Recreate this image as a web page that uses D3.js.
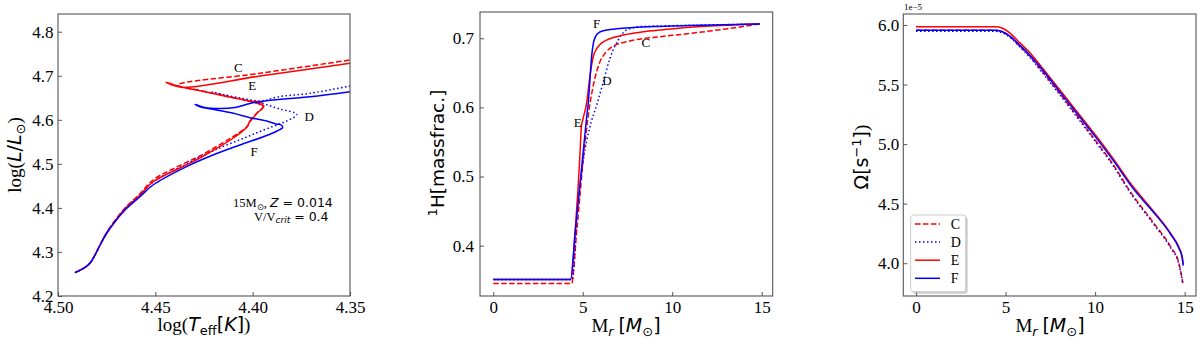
<!DOCTYPE html>
<html>
<head>
<meta charset="utf-8">
<script src="https://cdn.jsdelivr.net/npm/d3@7"></script>
<style>
  body { margin: 0; background: #fff; }
  svg { display: block; }
</style>
</head>
<body>
<svg id="chart" width="1200" height="346"></svg>
<script>
// ---- data ----
// HR tracks: [log Teff, log L]
var hrC = [[4.4913,4.2529],[4.4861,4.2652],[4.4836,4.2743],[4.4810,4.2931],[4.4784,4.3160],[4.4750,4.3440],[4.4707,4.3720],[4.4647,4.4040],[4.4579,4.4320],[4.4512,4.4634],[4.4358,4.4997],[4.4271,4.5178],[4.4185,4.5394],[4.4099,4.5621],[4.4029,4.5848],[4.4004,4.6018],[4.3973,4.6177],[4.3947,4.6291],[4.3967,4.6359],[4.4014,4.6416],[4.4116,4.6518],[4.4245,4.6643],[4.4384,4.6790],[4.3962,4.7056],[4.3500,4.7358]];
var hrD = [[4.4913,4.2529],[4.4861,4.2652],[4.4836,4.2743],[4.4810,4.2931],[4.4784,4.3158],[4.4750,4.3430],[4.4707,4.3705],[4.4647,4.4020],[4.4579,4.4290],[4.4512,4.4588],[4.4358,4.4958],[4.4202,4.5299],[4.3988,4.5689],[4.3774,4.6120],[4.3860,4.6245],[4.3952,4.6370],[4.4065,4.6484],[4.4209,4.6631],[4.4065,4.6495],[4.3952,4.6427],[4.3875,4.6518],[4.3705,4.6602],[4.3500,4.6767]];
var hrE = [[4.4913,4.2529],[4.4861,4.2652],[4.4836,4.2743],[4.4810,4.2931],[4.4784,4.3158],[4.4750,4.3430],[4.4707,4.3700],[4.4647,4.4015],[4.4579,4.4285],[4.4512,4.4588],[4.4358,4.4940],[4.4271,4.5133],[4.4185,4.5349],[4.4099,4.5587],[4.4029,4.5837],[4.4014,4.5973],[4.3993,4.6064],[4.3978,4.6154],[4.3952,4.6245],[4.3942,4.6313],[4.3962,4.6359],[4.3952,4.6404],[4.3998,4.6416],[4.4065,4.6472],[4.4168,4.6563],[4.4271,4.6661],[4.4373,4.6751],[4.4445,4.6851],[4.4368,4.6738],[4.3962,4.6994],[4.3500,4.7283]];
var hrF = [[4.4913,4.2529],[4.4861,4.2652],[4.4836,4.2743],[4.4810,4.2931],[4.4784,4.3158],[4.4750,4.3424],[4.4707,4.3687],[4.4647,4.3991],[4.4579,4.4254],[4.4512,4.4520],[4.4358,4.4899],[4.4204,4.5201],[4.4065,4.5428],[4.3928,4.5644],[4.3875,4.5746],[4.3846,4.5825],[4.3854,4.5882],[4.3880,4.5905],[4.3928,4.5973],[4.4014,4.6048],[4.4099,4.6148],[4.4185,4.6223],[4.4271,4.6298],[4.4296,4.6352],[4.4245,4.6279],[4.4168,4.6257],[4.4091,4.6279],[4.4014,4.6370],[4.3911,4.6443],[4.3705,4.6524],[4.3500,4.6638]];

// hydrogen profile: [Mr, X(1H)]
var hC = [[0,0.3454],[4.38,0.3454],[4.66,0.42],[5.12,0.548],[5.40,0.605],[5.59,0.632],[5.96,0.666],[6.3,0.680],[6.8,0.690],[7.45,0.695],[8.5,0.700],[9.31,0.7023],[10.99,0.707],[13.0,0.7135],[14.9,0.7207]];
var hD = [[0,0.351],[4.40,0.351],[4.7,0.45],[5.03,0.524],[5.40,0.572],[5.78,0.6035],[6.15,0.637],[6.52,0.671],[6.98,0.6975],[7.45,0.712],[8.2,0.7168],[10,0.7182],[12.5,0.7195],[14.9,0.7207]];
var hE = [[0,0.351],[4.32,0.351],[4.6,0.43],[4.85,0.535],[4.92,0.572],[5.0,0.582],[5.22,0.607],[5.40,0.645],[5.59,0.674],[5.78,0.685],[5.96,0.691],[6.3,0.697],[6.7,0.701],[7.5,0.706],[8.38,0.7096],[9.5,0.7125],[10.99,0.716],[13.0,0.719],[14.9,0.7207]];
var hF = [[0,0.351],[4.32,0.351],[4.57,0.418],[4.94,0.514],[5.22,0.5865],[5.31,0.607],[5.5,0.675],[5.62,0.696],[5.8,0.706],[6.15,0.711],[6.8,0.7135],[7.45,0.715],[9.0,0.717],[11.0,0.7185],[13.0,0.7197],[14.9,0.7207]];

// angular velocity profile: [Mr, Omega / 1e-5]
var wC = [[0,5.955],[4.4,5.955],[4.8,5.942],[5.26,5.90],[5.8,5.82],[6.4,5.73],[7.0,5.62],[8.0,5.43],[9.0,5.235],[10.0,5.035],[11.0,4.83],[11.97,4.60],[13.28,4.336],[14.21,4.14],[14.68,4.0],[14.87,3.86],[14.9,3.833]];
var wD = [[0,5.948],[4.4,5.948],[4.8,5.936],[5.26,5.895],[5.8,5.815],[6.4,5.722],[7.0,5.61],[8.0,5.42],[9.0,5.225],[10.0,5.025],[11.0,4.82],[11.97,4.59],[13.28,4.325],[14.21,4.13],[14.68,3.99],[14.87,3.85],[14.9,3.825]];
var wE = [[0,5.985],[4.4,5.985],[4.8,5.975],[5.26,5.93],[5.8,5.85],[6.4,5.76],[7.0,5.65],[8.0,5.46],[9.0,5.27],[10.0,5.08],[11.0,4.88],[12.16,4.635],[13.19,4.45],[14.21,4.252],[14.68,4.135],[14.87,4.05],[14.92,3.99]];
var wF = [[0,5.955],[4.4,5.955],[4.8,5.945],[5.26,5.905],[5.8,5.83],[6.4,5.74],[7.0,5.635],[8.0,5.445],[9.0,5.255],[10.0,5.065],[11.0,4.865],[12.16,4.62],[13.19,4.44],[14.21,4.245],[14.68,4.125],[14.87,4.04],[14.92,3.98]];

var teffTicks = [4.50, 4.45, 4.40, 4.35];
var lumTicks = [4.2, 4.3, 4.4, 4.5, 4.6, 4.7, 4.8];
var massTicks = [0, 5, 10, 15];
var hTicks = [0.4, 0.5, 0.6, 0.7];
var wTicks = [4.0, 4.5, 5.0, 5.5, 6.0];
var modelNames = ['C', 'D', 'E', 'F'];

var SERIF = "'Liberation Serif','Times New Roman',serif";
var SANS = "'DejaVu Sans',sans-serif";
var RED = '#ff0000', BLUE = '#0000ff';

var styles = {
  C: {color: RED, dash: '5.5,2.4'},
  D: {color: BLUE, dash: '1.5,2.5'},
  E: {color: RED, dash: null},
  F: {color: BLUE, dash: null}
};

var svg = d3.select('#chart');

function styleAxis(sel) {
  sel.select('.domain').remove();
  sel.selectAll('line').attr('stroke', '#555');
  sel.selectAll('text')
    .style('font-family', SERIF)
    .style('font-size', '17px')
    .attr('fill', '#000');
}

function makePanel(id, box, xDomain, yDomain, xTicks, yTicks, xFmt, yFmt, yPad) {
  var g = svg.append('g');
  var x = d3.scaleLinear().domain(xDomain).range([box.x0, box.x1]);
  var y = d3.scaleLinear().domain(yDomain).range([box.y1, box.y0]);

  g.append('clipPath').attr('id', id).append('rect')
    .attr('x', box.x0).attr('y', box.y0)
    .attr('width', box.x1 - box.x0).attr('height', box.y1 - box.y0);

  g.append('g')
    .attr('transform', 'translate(0,' + box.y1 + ')')
    .call(d3.axisBottom(x).tickValues(xTicks).tickFormat(xFmt)
      .tickSizeInner(-4).tickSizeOuter(0).tickPadding(5))
    .call(styleAxis);

  g.append('g')
    .attr('transform', 'translate(' + box.x0 + ',0)')
    .call(d3.axisLeft(y).tickValues(yTicks).tickFormat(yFmt)
      .tickSizeInner(-4).tickSizeOuter(0).tickPadding(yPad))
    .call(styleAxis);

  var plot = g.append('g').attr('clip-path', 'url(#' + id + ')');

  g.append('rect')
    .attr('x', box.x0).attr('y', box.y0)
    .attr('width', box.x1 - box.x0).attr('height', box.y1 - box.y0)
    .attr('fill', 'none').attr('stroke', '#555').attr('stroke-width', 1.1);

  return {g: g, plot: plot, x: x, y: y};
}

function drawSeries(p, data, key, curve) {
  var line = d3.line().x(function(d) { return p.x(d[0]); })
    .y(function(d) { return p.y(d[1]); }).curve(curve);
  p.plot.append('path').datum(data)
    .attr('d', line)
    .attr('fill', 'none')
    .attr('stroke', styles[key].color)
    .attr('stroke-width', 1.5)
    .attr('stroke-dasharray', styles[key].dash)
    .attr('stroke-linejoin', 'round');
}

// rich text from parts: {t, f, s, i, dy}
function rich(sel, parts) {
  parts.forEach(function(p) {
    var t = sel.append('tspan').text(p.t)
      .style('font-family', p.f || SANS)
      .style('font-size', (p.s || 19) + 'px');
    if (p.i) t.style('font-style', 'italic');
    if (p.dy) t.attr('dy', p.dy);
  });
  return sel;
}

function curveLabel(p, txt, xv, yv) {
  p.g.append('text').attr('x', p.x(xv)).attr('y', p.y(yv))
    .attr('dy', '0.35em').attr('text-anchor', 'middle')
    .style('font-family', SERIF).style('font-size', '13px')
    .text(txt);
}

// ---------- left panel: HR diagram ----------
var hr = makePanel('clipL', {x0: 58, x1: 350, y0: 14, y1: 296},
  [4.50, 4.35], [4.2, 4.8402], teffTicks, lumTicks,
  d3.format('.2f'), d3.format('.1f'), 4.5);

var hrData = {C: hrC, D: hrD, E: hrE, F: hrF};
modelNames.forEach(function(k) { drawSeries(hr, hrData[k], k, d3.curveCatmullRom.alpha(0.5)); });

curveLabel(hr, 'C', 4.4074, 4.7192);
curveLabel(hr, 'E', 4.4002, 4.6783);
curveLabel(hr, 'D', 4.3709, 4.6086);
curveLabel(hr, 'F', 4.3993, 4.5292);

rich(hr.g.append('text').attr('x', 233).attr('y', 207), [
  {t: '15M', f: SERIF, s: 12.5},
  {t: '\u2299', s: 8.5, dy: 3},
  {t: ', ', f: SERIF, s: 12.5, dy: -3},
  {t: 'Z', s: 12.5, i: true},
  {t: ' = 0.014', s: 12.5}
]);
rich(hr.g.append('text').attr('x', 254).attr('y', 220.7), [
  {t: 'V/V', f: SERIF, s: 12.5},
  {t: 'crit', s: 9, i: true, dy: 2.5},
  {t: ' = 0.4', s: 12.5, dy: -2.5}
]);

rich(svg.append('text').attr('x', 204).attr('y', 331).attr('text-anchor', 'middle'), [
  {t: 'log(', f: SERIF},
  {t: 'T', i: true},
  {t: 'eff', s: 13, dy: 4},
  {t: '[', dy: -4},
  {t: 'K', i: true},
  {t: ']'},
  {t: ')', f: SERIF}
]);
rich(svg.append('text').attr('transform', 'translate(21,155) rotate(-90)').attr('text-anchor', 'middle'), [
  {t: 'log(', f: SERIF},
  {t: 'L', i: true},
  {t: '/'},
  {t: 'L', i: true},
  {t: '\u2299', s: 13, dy: 4},
  {t: ')', f: SERIF, dy: -4}
]);

// ---------- middle panel: hydrogen profile ----------
var hp = makePanel('clipM', {x0: 480, x1: 772.7, y0: 12, y1: 296},
  [-0.743, 15.615], [0.3272, 0.738], massTicks, hTicks,
  d3.format('d'), d3.format('.1f'), 6);

var hData = {C: hC, D: hD, E: hE, F: hF};
modelNames.forEach(function(k) { drawSeries(hp, hData[k], k, d3.curveMonotoneX); });

curveLabel(hp, 'F', 5.78, 0.7217);
curveLabel(hp, 'C', 8.52, 0.6936);
curveLabel(hp, 'D', 6.35, 0.6387);
curveLabel(hp, 'E', 4.72, 0.5785);

rich(svg.append('text').attr('x', 626).attr('y', 332).attr('text-anchor', 'middle'), [
  {t: 'M', f: SERIF},
  {t: 'r', s: 13, i: true, dy: 4},
  {t: ' ', f: SERIF, dy: -4},
  {t: '['},
  {t: 'M', i: true},
  {t: '\u2299', s: 13, dy: 4},
  {t: ']', dy: -4}
]);
rich(svg.append('text').attr('transform', 'translate(444,153) rotate(-90)').attr('text-anchor', 'middle'), [
  {t: '1', s: 13, dy: -7},
  {t: 'H', s: 18.5, dy: 7},
  {t: '[massfrac.]', s: 18.5}
]);

// ---------- right panel: angular velocity ----------
var wp = makePanel('clipR', {x0: 903.3, x1: 1196, y0: 14, y1: 296},
  [-0.711, 15.635], [3.7247, 6.0923], massTicks, wTicks,
  d3.format('d'), d3.format('.1f'), 4);

var wData = {C: wC, D: wD, E: wE, F: wF};
modelNames.forEach(function(k) { drawSeries(wp, wData[k], k, d3.curveMonotoneX); });

wp.g.append('text').attr('x', 904).attr('y', 10)
  .style('font-family', SERIF).style('font-size', '9px').text('1e\u22125');

rich(svg.append('text').attr('x', 1050).attr('y', 332).attr('text-anchor', 'middle'), [
  {t: 'M', f: SERIF},
  {t: 'r', s: 13, i: true, dy: 4},
  {t: ' ', f: SERIF, dy: -4},
  {t: '['},
  {t: 'M', i: true},
  {t: '\u2299', s: 13, dy: 4},
  {t: ']', dy: -4}
]);
rich(svg.append('text').attr('transform', 'translate(868,157) rotate(-90)').attr('text-anchor', 'middle'), [
  {t: '\u03a9[s'},
  {t: '\u22121', s: 13, dy: -7},
  {t: ']', dy: 7},
  {t: ')', f: SERIF}
]);

// legend
var lg = wp.g.append('g');
lg.append('rect').attr('x', 912.7).attr('y', 217).attr('width', 55).attr('height', 76.7)
  .attr('rx', 3).attr('fill', '#999').attr('opacity', 0.5);
lg.append('rect').attr('x', 910.7).attr('y', 215).attr('width', 55).attr('height', 76.7)
  .attr('rx', 3).attr('fill', '#fff').attr('stroke', '#ccc').attr('stroke-width', 1);
var legendY = d3.scalePoint().domain(modelNames).range([224, 278.3]);
modelNames.forEach(function(k) {
  lg.append('line').attr('x1', 915).attr('x2', 940)
    .attr('y1', legendY(k)).attr('y2', legendY(k))
    .attr('stroke', styles[k].color).attr('stroke-width', 1.5)
    .attr('stroke-dasharray', styles[k].dash);
  lg.append('text').attr('x', 950.7).attr('y', legendY(k)).attr('dy', '0.35em')
    .style('font-family', SERIF).style('font-size', '14px').text(k);
});
</script>
</body>
</html>
